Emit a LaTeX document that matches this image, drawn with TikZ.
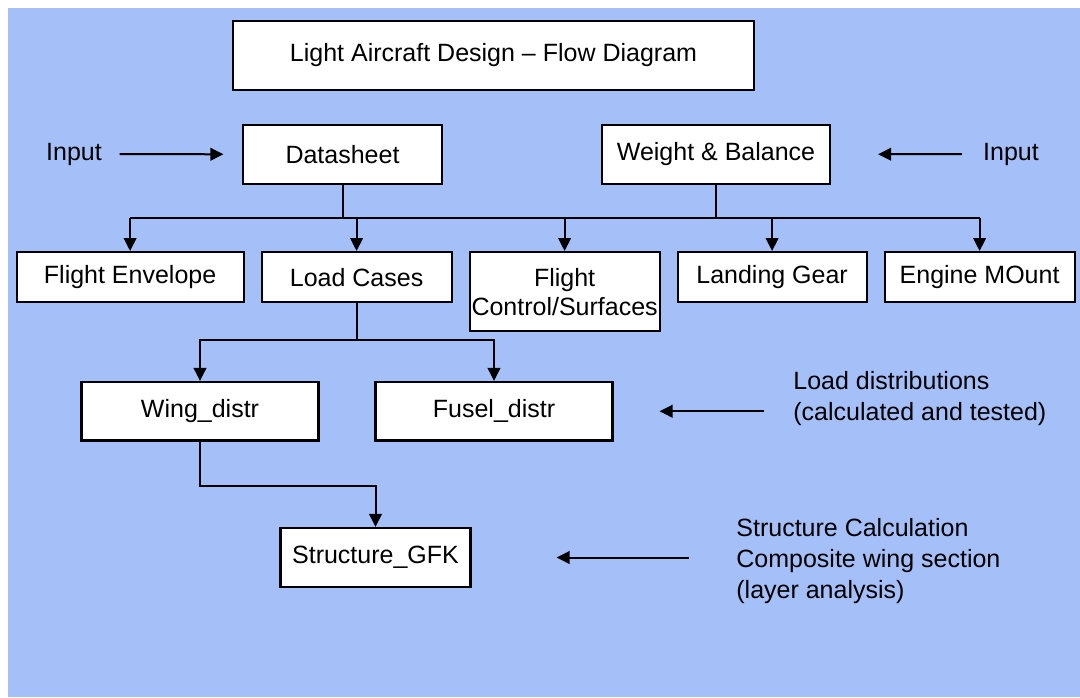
\documentclass[tikz,border=0pt]{standalone}
\usepackage{fontspec}
\setmainfont{Liberation Sans}
\usepackage{tikz}
\usetikzlibrary{arrows.meta,positioning,calc}
\definecolor{slideblue}{RGB}{165,191,249}

\begin{document}
\begin{tikzpicture}[x=0.5pt, y=-0.5pt, every node/.style={font=\fontsize{12.5}{15.5}\selectfont}, >={Triangle[length=6.5pt,width=6.3pt]}, node distance=7.9pt,
  box/.style={draw, line width=1.1pt, fill=white, inner sep=0pt, align=center},
  conn/.style={line width=1pt}]
\useasboundingbox (0,0) rectangle (1080,697);
\fill[slideblue] (8,8) rectangle (1080,697);
\node[box, minimum width=260.5pt, minimum height=34.5pt] (title) at (493.5,55.5) {Light Aircraft Design -- Flow Diagram};
\node[box, minimum width=99.5pt, minimum height=29.5pt] (ds) at (342.5,154.5) {Datasheet};
\node[box, minimum width=114pt, minimum height=29.5pt] (wb) at (716,154.5) {Weight \& Balance};
\node[inner sep=0pt] (inl) at (74,154) {Input};
\node[inner sep=0pt] (inr) at (1011,154) {Input};
\node[box, minimum width=113.5pt, minimum height=25pt, anchor=north west] (fe) at (15.5,251) {Flight Envelope};
\node[box, minimum width=95pt, minimum height=25pt, right=of fe.north east, anchor=north west] (lc) {Load Cases};
\node[box, minimum width=95pt, minimum height=39.5pt, right=of lc.north east, anchor=north west, font=\fontsize{12.5}{14.5}\selectfont] (fc) {Flight\\Control/Surfaces};
\node[box, minimum width=94.5pt, minimum height=25pt, right=of fc.north east, anchor=north west] (lg) {Landing Gear};
\node[box, minimum width=95pt, minimum height=25pt, right=of lg.north east, anchor=north west] (em) {Engine MOunt};
\node[box, minimum width=118.5pt, minimum height=29.25pt] (wd) at (200,411.25) {Wing\_distr};
\node[box, minimum width=118.5pt, minimum height=29.25pt, right=27.4pt of wd] (fd) {Fusel\_distr};
\node[box, minimum width=95pt, minimum height=29.5pt] (sg) at (375.5,557.5) {Structure\_GFK};
\node[inner sep=0pt, anchor=west, align=left] (ld) at (793,399) {Load distributions\\(calculated and tested)};
\node[inner sep=0pt, anchor=west, align=left] (sc) at (736,561) {Structure Calculation\\Composite wing section\\(layer analysis)};
\coordinate (bar) at (0,218);
\coordinate (split) at (0,340);
\draw[conn] (ds.south) -- (ds.south |- bar);
\draw[conn] (wb.south) -- (wb.south |- bar);
\draw[conn] (fe.north |- bar) -- (em.north |- bar);
\foreach \n in {fe,lc,fc,lg,em}
  \draw[conn,->] (\n.north |- bar) -- (\n.north);
\draw[conn] (lc.south) -- (lc.south |- split);
\draw[conn,->] (lc.south |- split) -| (wd.north);
\draw[conn,->] (lc.south |- split) -| (fd.north);
\draw[conn,->] (wd.south) -- ++(0,44) -| (sg.north);
\draw[conn,->, shorten <=8.75pt, shorten >=9.25pt] (inl) -- (ds);
\draw[conn,->, shorten <=10.5pt, shorten >=23.5pt] (inr) -- (wb);
\draw[conn,->, shorten <=14.5pt, shorten >=23pt] (ld.west |- fd.east) -- (fd.east);
\draw[conn,->, shorten <=23.5pt, shorten >=42.5pt] (sc.west |- sg.east) -- (sg.east);
\end{tikzpicture}
\end{document}
